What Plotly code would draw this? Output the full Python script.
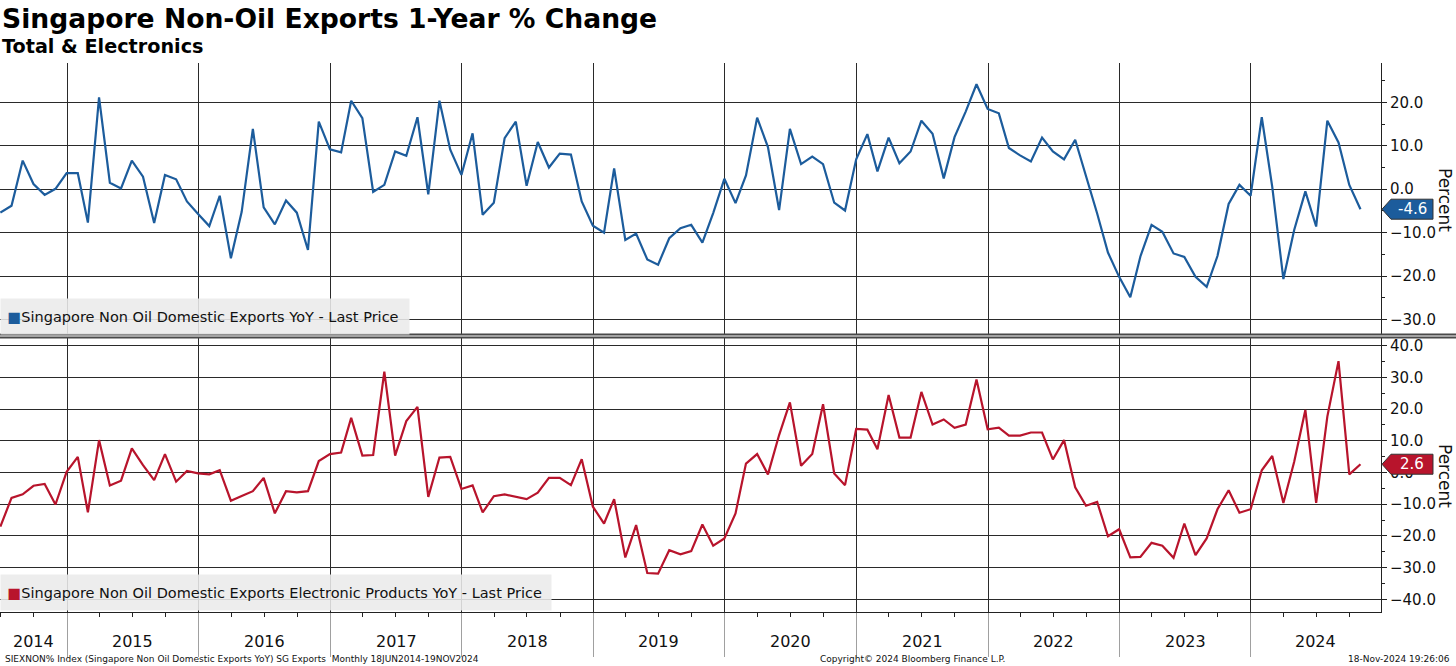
import pandas as pd
import plotly.graph_objects as go

# ---------------- data (monthly, Jun 2014 - Oct 2024) ----------------
total_yoy = [
    # 2014 Jun-Dec
    -5.4, -3.8, 6.6, 1.2, -1.3, 0.1, 3.7,
    # 2015
    3.7, -7.7, 21.2, 1.5, 0.2, 6.6, 2.9, -7.8, 3.3, 2.3, -2.8, -5.7,
    # 2016
    -8.5, -1.5, -15.9, -5.2, 13.9, -4.2, -8.1, -2.6, -5.4, -14.0, 15.6, 9.2,
    # 2017
    8.5, 20.4, 16.4, -0.6, 1.0, 8.7, 7.7, 16.6, -1.2, 20.4, 9.1, 3.3,
    # 2018
    12.9, -5.9, -3.1, 11.8, 15.6, 0.8, 10.9, 5.0, 8.2, 8.0, -2.8, -8.4,
    # 2019
    -10.0, 4.8, -11.7, -10.2, -16.2, -17.4, -11.3, -9.0, -8.2, -12.3, -5.5, 2.4,
    # 2020
    -3.2, 3.2, 16.5, 9.7, -4.8, 13.9, 5.8, 7.5, 5.8, -3.1, -4.9, 6.9,
    # 2021
    12.7, 4.1, 11.9, 6.0, 8.7, 15.8, 12.8, 2.5, 12.0, 17.9, 24.2, 18.5,
    # 2022
    17.5, 9.5, 7.8, 6.4, 11.9, 8.7, 6.9, 11.4, 3.1, -5.6, -14.6, -20.2,
    # 2023
    -24.9, -15.5, -8.2, -9.8, -14.8, -15.6, -20.2, -22.5, -15.4, -3.4, 1.0, -1.5,
    # 2024 Jan-Oct
    16.6, 0.6, -20.7, -9.4, -0.5, -8.6, 15.8, 10.8, 1.0, -4.6,
]

electronics_yoy = [
    # 2014 Jun-Dec
    -17.1, -8.0, -6.9, -4.2, -3.6, -10.1, 0.2,
    # 2015
    4.9, -12.6, 10.2, -4.1, -2.6, 7.6, 2.3, -2.4, 5.8, -2.9, 0.5, -0.3,
    # 2016
    -0.6, 0.7, -8.9, -7.4, -5.9, -1.7, -12.9, -5.9, -6.3, -5.9, 3.6, 5.8,
    # 2017
    6.3, 17.2, 5.3, 5.5, 31.8, 5.3, 16.2, 20.7, -7.7, 4.7, 4.9, -5.2,
    # 2018
    -4.1, -12.6, -7.5, -6.9, -7.7, -8.4, -6.4, -1.7, -1.7, -4.0, 4.2, -10.8,
    # 2019
    -16.1, -8.4, -26.8, -16.6, -31.7, -31.9, -24.5, -25.8, -24.8, -16.4, -23.1, -20.8,
    # 2020
    -12.9, 2.8, 5.8, -0.6, 11.8, 22.1, 2.1, 5.8, 21.5, -0.3, -4.0, 13.7,
    # 2021
    13.5, 7.3, 24.4, 11.0, 11.0, 25.4, 15.1, 16.7, 14.1, 15.1, 29.3, 13.6,
    # 2022
    14.1, 11.6, 11.6, 12.6, 12.6, 4.1, 10.2, -4.7, -10.5, -9.3, -20.1, -17.9,
    # 2023
    -26.8, -26.6, -22.2, -23.1, -26.9, -16.1, -26.1, -20.8, -11.6, -5.6, -12.7, -11.6,
    # 2024 Jan-Oct
    0.7, 5.2, -9.6, 3.4, 19.7, -9.6, 17.6, 35.1, -0.6, 2.6,
]

year_labels = ["2014", "2015", "2016", "2017", "2018", "2019",
               "2020", "2021", "2022", "2023", "2024"]
yaxis_ticks_top = [-30, -20, -10, 0, 10, 20]
yaxis_ticks_bottom = [-40, -30, -20, -10, 0, 10, 20, 30, 40]

title_text = "Singapore Non-Oil Exports 1-Year % Change"
subtitle_text = "Total & Electronics"
name_total = "Singapore Non Oil Domestic Exports YoY - Last Price"
name_elec = "Singapore Non Oil Domestic Exports Electronic Products YoY - Last Price"
footer_left = "SIEXNON% Index (Singapore Non Oil Domestic Exports YoY) SG Exports  Monthly 18JUN2014-19NOV2024"
footer_mid = "Copyright\u00a9 2024 Bloomberg Finance L.P."
footer_right = "18-Nov-2024 19:26:06"

# ---------------- styling ----------------
BLUE = "#1c5c9c"
RED = "#b8142c"
GRID = "#2a2a2a"
FONT = "DejaVu Sans"
W, H = 1456, 666

try:
    dates = pd.date_range("2014-06-30", periods=len(total_yoy), freq="ME")
except Exception:
    dates = pd.date_range("2014-06-30", periods=len(total_yoy), freq="M")

x_start = pd.Timestamp("2014-06-29")
x_end = pd.Timestamp("2024-12-27")

def fx(px):
    return px / W

def fy(px):
    return 1 - px / H

plot_right = 1381
top_dom = [fy(335), fy(63)]
bot_dom = [fy(612), fy(338)]
top_range = [-33.6, 29.1]
bot_range = [-44.0, 42.4]

fig = go.Figure()
fig.add_trace(go.Scatter(x=dates, y=total_yoy, mode="lines", name=name_total,
                         line=dict(color=BLUE, width=2.2), xaxis="x", yaxis="y",
                         showlegend=False, cliponaxis=True))
fig.add_trace(go.Scatter(x=dates, y=electronics_yoy, mode="lines", name=name_elec,
                         line=dict(color=RED, width=2.2), xaxis="x2", yaxis="y2",
                         showlegend=False, cliponaxis=True))

common_y = dict(side="right", tickmode="array", tickformat=".1f",
                showgrid=True, gridcolor=GRID, gridwidth=1, zeroline=False,
                ticks="outside", ticklen=5, tickcolor="#222", tickwidth=1,
                showline=True, linecolor="#222", linewidth=1,
                tickfont=dict(family=FONT, size=15, color="#111"),
                minor=dict(dtick=5, tick0=0, ticklen=3, tickcolor="#222", showgrid=False),
                fixedrange=True)

fig.update_layout(
    width=W, height=H, autosize=False,
    margin=dict(l=0, r=0, t=0, b=0),
    paper_bgcolor="white", plot_bgcolor="white",
    font=dict(family=FONT, color="#111"),
    xaxis=dict(domain=[0, fx(plot_right)], anchor="y", type="date",
               range=[x_start, x_end], tick0="2015-01-01", dtick="M12",
               showgrid=True, gridcolor=GRID, gridwidth=1, showticklabels=False,
               ticks="", zeroline=False, showline=False),
    xaxis2=dict(domain=[0, fx(plot_right)], anchor="y2", type="date",
                range=[x_start, x_end], matches="x", tick0="2015-01-01", dtick="M12",
                showgrid=True, gridcolor=GRID, gridwidth=1, showticklabels=False,
                ticks="outside", ticklen=44, tickcolor="#a0a0a0", tickwidth=1,
                showline=True, linecolor="#222", linewidth=1, zeroline=False,
                minor=dict(dtick="M3", tick0="2015-01-01", ticklen=4,
                           tickcolor="#222", showgrid=False)),
    yaxis=dict(domain=top_dom, anchor="x", range=top_range,
               tickvals=yaxis_ticks_top, **common_y),
    yaxis2=dict(domain=bot_dom, anchor="x2", range=bot_range,
                tickvals=yaxis_ticks_bottom, **common_y),
)

annotations = []
shapes = []

# title / subtitle
annotations.append(dict(text="<b>" + title_text + "</b>", xref="paper", yref="paper",
                        x=fx(0), y=fy(19), xanchor="left", yanchor="middle",
                        showarrow=False, font=dict(family=FONT, size=26.6, color="#000")))
annotations.append(dict(text="<b>" + subtitle_text.replace("&", "&amp;") + "</b>",
                        xref="paper", yref="paper",
                        x=fx(0), y=fy(46), xanchor="left", yanchor="middle",
                        showarrow=False, font=dict(family=FONT, size=19.2, color="#000")))

# legend boxes
def legend_box(name, color, ycenter, width):
    return dict(text="&nbsp;<span style='color:%s'>\u25a0</span>%s" % (color, name),
                xref="paper", yref="paper", x=0, y=fy(ycenter),
                xanchor="left", yanchor="middle", align="left",
                width=width, height=31, borderpad=2,
                bgcolor="rgba(234,234,234,0.88)", showarrow=False,
                font=dict(family=FONT, size=14.5, color="#111"))

annotations.append(legend_box(name_total, BLUE, 316, 404))
annotations.append(legend_box(name_elec, RED, 592.5, 546))

# year labels, centred in each visible year segment
for lab in year_labels:
    y0 = max(x_start, pd.Timestamp(lab + "-01-01"))
    y1 = min(x_end, pd.Timestamp(str(int(lab) + 1) + "-01-01"))
    mid = y0 + (y1 - y0) / 2
    annotations.append(dict(text=lab, xref="x2", yref="paper", x=mid, y=fy(641),
                            xanchor="center", yanchor="middle", showarrow=False,
                            font=dict(family=FONT, size=16, color="#111")))

# "Percent" axis titles
for ycen in (200, 476):
    annotations.append(dict(text="Percent", xref="paper", yref="paper",
                            x=fx(1445), y=fy(ycen), textangle=90,
                            xanchor="center", yanchor="middle", showarrow=False,
                            font=dict(family=FONT, size=17, color="#111")))

# last value tags
def last_tag(values, yref, rng, dom_px_h, color):
    v = values[-1]
    half = 10 * (rng[1] - rng[0]) / dom_px_h
    xt, xb, xr = fx(1382), fx(1391), fx(1433)
    path = "M %f,%f L %f,%f L %f,%f L %f,%f L %f,%f Z" % (
        xt, v, xb, v + half, xr, v + half, xr, v - half, xb, v - half)
    shapes.append(dict(type="path", path=path, xref="paper", yref=yref,
                       fillcolor=color, line=dict(color="#333", width=1), layer="above"))
    annotations.append(dict(text="%.1f" % v, xref="paper", yref=yref,
                            x=(xb + xr) / 2, y=v, xanchor="center", yanchor="middle",
                            showarrow=False, font=dict(family=FONT, size=15, color="white")))

last_tag(total_yoy, "y", top_range, 335 - 63, BLUE)
last_tag(electronics_yoy, "y2", bot_range, 612 - 338, RED)

# panel separator (double line)
for ypx in (334.5, 337.5):
    shapes.append(dict(type="line", xref="paper", yref="paper", x0=0, x1=1,
                       y0=fy(ypx), y1=fy(ypx), line=dict(color="#4a4a4a", width=2),
                       layer="above"))

# footer
annotations.append(dict(text=footer_left, xref="paper", yref="paper", x=fx(3), y=fy(659),
                        xanchor="left", yanchor="middle", showarrow=False,
                        font=dict(family=FONT, size=9, color="#111")))
annotations.append(dict(text=footer_mid, xref="paper", yref="paper", x=fx(912), y=fy(659),
                        xanchor="center", yanchor="middle", showarrow=False,
                        font=dict(family=FONT, size=9, color="#111")))
annotations.append(dict(text=footer_right, xref="paper", yref="paper", x=fx(1452), y=fy(659),
                        xanchor="right", yanchor="middle", showarrow=False,
                        font=dict(family=FONT, size=9, color="#111")))

fig.update_layout(annotations=annotations, shapes=shapes)

fig.write_html("out.html", config={"displayModeBar": False},
               post_script="document.body.style.margin='0';document.body.style.overflow='hidden';")
